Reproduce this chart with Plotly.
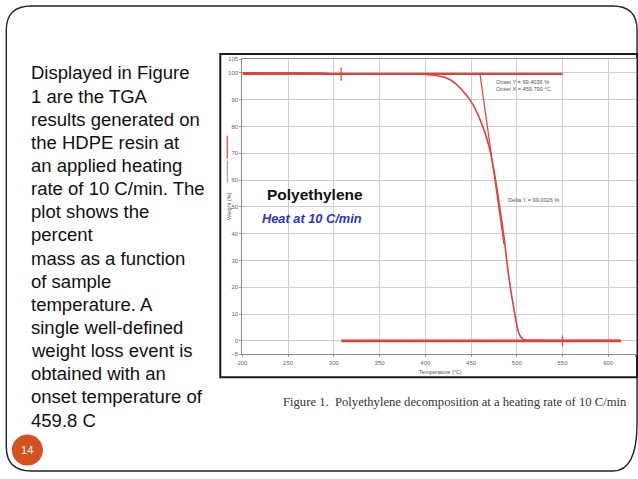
import plotly.graph_objects as go

W, H = 638, 479

# ---- data ----
temperature = [200, 250, 288, 300, 350, 398, 410, 420, 428, 435, 442, 449, 455, 460,
               465, 470, 475, 480, 486, 491, 497, 502, 505, 508, 520, 560, 600, 614]
weight = [100.0, 100.0, 99.9, 99.6, 99.6, 99.5, 99.1, 98.4, 97.2, 95.4, 92.8, 89.8, 86.3, 82.4,
          77.8, 72.0, 63.7, 53.0, 38.8, 24.5, 11.5, 3.0, 1.2, 0.4, 0.2, 0.1, 0.1, 0.1]

upper_base_x = [200, 550]
upper_base_y = [99.6, 99.6]
lower_base_x = [308, 614]
lower_base_y = [0.0, 0.0]
start_marker_x = [308, 308]
start_marker_y = [97.0, 102.0]
end_marker_x = [550, 550]
end_marker_y = [-2.0, 2.0]
tangent_x = [459.8, 486]
tangent_y = [99.4, 36.0]

x_ticks = [200, 250, 300, 350, 400, 450, 500, 550, 600, 630]
y_ticks = [-5, 0, 10, 20, 30, 40, 50, 60, 70, 80, 90, 100, 105]

body_lines = ["Displayed in Figure", "1 are the TGA", "results generated on",
              "the HDPE resin at", "an applied heating", "rate of 10 C/min. The",
              "plot shows the", "percent", "mass as a function", "of sample",
              "temperature. A", "single well-defined", "weight loss event is",
              "obtained with an", "onset temperature of", "459.8 C"]

RED = "#e4403b"

# the photographed page appears slightly shrunk; map target pixels to page pixels
SX, AX = 0.9876, 3.7
SY, AY = 0.9895, 2.0
FS = 1 / 0.988


def px(x):
    return min(max(((x - AX) / SX) / W, 0.0), 0.9985)


def py(y):
    return 1 - min(max(((y - AY) / SY) / H, 0.0015), 1.0)


fig = go.Figure()
fig.add_trace(go.Scatter(x=upper_base_x, y=upper_base_y, mode="lines",
                         line=dict(color=RED, width=2.2), hoverinfo="skip"))
fig.add_trace(go.Scatter(x=lower_base_x, y=lower_base_y, mode="lines",
                         line=dict(color=RED, width=2.6), hoverinfo="skip"))
fig.add_trace(go.Scatter(x=start_marker_x, y=start_marker_y, mode="lines",
                         line=dict(color=RED, width=1.2), hoverinfo="skip"))
fig.add_trace(go.Scatter(x=end_marker_x, y=end_marker_y, mode="lines",
                         line=dict(color=RED, width=1.2), hoverinfo="skip"))
fig.add_trace(go.Scatter(x=tangent_x, y=tangent_y, mode="lines",
                         line=dict(color=RED, width=1.2), hoverinfo="skip"))
fig.add_trace(go.Scatter(x=temperature, y=weight, mode="lines",
                         line=dict(color=RED, width=1.6, shape="spline", smoothing=0.6),
                         hoverinfo="skip"))

shapes = []
# slide rounded border
l, t, r, b, rx, ry = 5, 5, 633.5, 471, 25, 24
path = (f"M {px(l+rx)},{py(t)} L {px(r-rx)},{py(t)} Q {px(r)},{py(t)} {px(r)},{py(t+ry)} "
        f"L {px(r)},{py(b-ry*2)} Q {px(r)},{py(b)} {px(r-rx)},{py(b)} "
        f"L {px(l+rx)},{py(b)} Q {px(l)},{py(b)} {px(l)},{py(b-ry)} "
        f"L {px(l)},{py(t+ry)} Q {px(l)},{py(t)} {px(l+rx)},{py(t)} Z")
shapes.append(dict(type="path", xref="paper", yref="paper", path=path,
                   line=dict(color="#222", width=1.4), layer="below"))
# image frame
shapes.append(dict(type="rect", xref="paper", yref="paper",
                   x0=px(218), x1=px(634), y0=py(377), y1=py(53),
                   fillcolor="white", line=dict(color="#1a1a1a", width=2), layer="below"))
# small legend swatch near y title
shapes.append(dict(type="line", xref="paper", yref="paper",
                   x0=px(225), x1=px(225), y0=py(135), y1=py(158),
                   line=dict(color=RED, width=1.2)))
shapes.append(dict(type="line", xref="paper", yref="paper",
                   x0=px(225), x1=px(225), y0=py(160), y1=py(182),
                   line=dict(color="#777", width=0.8)))

annotations = []
for i, s in enumerate(body_lines):
    annotations.append(dict(text=s, xref="paper", yref="paper", x=px(28), y=py(72 + 23.2 * i),
                            xanchor="left", yanchor="middle", showarrow=False,
                            font=dict(family="Liberation Sans, Arial", size=18.3 * FS, color="#111")))
annotations.append(dict(text="Figure 1.  Polyethylene decomposition at a heating rate of 10 C/min",
                        xref="paper", yref="paper", x=px(625), y=py(402),
                        xanchor="right", yanchor="middle", showarrow=False,
                        font=dict(family="Liberation Serif, Times New Roman", size=12.5 * FS,
                                  color="#333")))
shapes.append(dict(type="circle", xref="paper", yref="paper",
                   x0=px(10.5), x1=px(41.5), y0=py(465.5), y1=py(434.5),
                   fillcolor="#d4521f", line=dict(width=0)))
annotations.append(dict(text="14", xref="paper", yref="paper", x=px(26), y=py(450),
                        xanchor="center", yanchor="middle", showarrow=False,
                        font=dict(family="Liberation Sans, Arial", size=11 * FS, color="white")))
# chart texts
annotations.append(dict(text="<b>Polyethylene</b>", x=279, y=54.7, xref="x", yref="y",
                        showarrow=False, xanchor="center", yanchor="middle",
                        font=dict(family="Liberation Sans", size=15.5, color="#111")))
annotations.append(dict(text="<b><i>Heat at 10 C/min</i></b>", x=276, y=45.6, xref="x", yref="y",
                        showarrow=False, xanchor="center", yanchor="middle",
                        font=dict(family="Liberation Sans", size=12.8, color="#2a35c8")))
annotations.append(dict(text="Onset Y = 99.4036 %<br>Onset X = 459.790 °C", x=475, y=98.6,
                        xref="x", yref="y", showarrow=False, xanchor="left", yanchor="top",
                        align="left", font=dict(family="Liberation Sans", size=5.6, color="#555")))
annotations.append(dict(text="Delta Y = 99.0026 %", x=488, y=52.5, xref="x", yref="y",
                        showarrow=False, xanchor="left", yanchor="middle",
                        font=dict(family="Liberation Sans", size=5.6, color="#555")))
annotations.append(dict(text="Weight (%)", xref="paper", yref="paper", x=px(226), y=py(205),
                        textangle=-90, showarrow=False, xanchor="center", yanchor="middle",
                        font=dict(family="Liberation Sans", size=5.6, color="#555")))
annotations.append(dict(text="Temperature (°C)", xref="paper", yref="paper", x=px(437), y=py(372),
                        showarrow=False, xanchor="center", yanchor="middle",
                        font=dict(family="Liberation Sans", size=5.6, color="#555")))

fig.update_layout(
    width=W, height=H, autosize=False,
    margin=dict(l=0, r=0, t=0, b=0),
    paper_bgcolor="white", plot_bgcolor="white",
    showlegend=False,
    shapes=shapes, annotations=annotations,
    xaxis=dict(domain=[px(240), px(631.5)], range=[200, 630], tickvals=x_ticks,
               showgrid=True, gridcolor="#cfcfcf", gridwidth=1, zeroline=False,
               showline=True, linecolor="#8a8a8a", linewidth=1.2, mirror=True,
               ticks="outside", ticklen=2, tickcolor="#999",
               tickfont=dict(family="Liberation Sans", size=6, color="#666")),
    yaxis=dict(domain=[py(354), py(58.5)], range=[-5, 105], tickvals=y_ticks,
               showgrid=True, gridcolor="#cfcfcf", gridwidth=1, zeroline=False,
               showline=True, linecolor="#8a8a8a", linewidth=1.2, mirror=True,
               ticks="outside", ticklen=2, tickcolor="#999",
               tickfont=dict(family="Liberation Sans", size=6, color="#666")),
)

fig.write_html("out.html", config={"displayModeBar": False},
               post_script="document.body.style.margin='0';document.body.style.overflow='hidden';")
